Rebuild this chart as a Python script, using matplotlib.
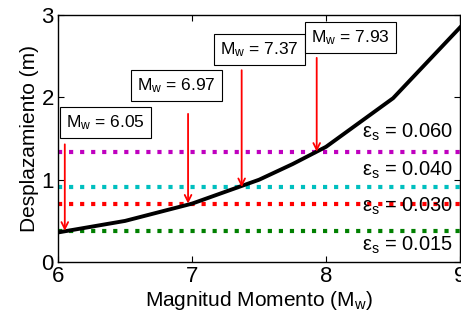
import numpy as np
import matplotlib
matplotlib.use('Agg')
import matplotlib.pyplot as plt

plt.rcParams['font.family'] = ['Liberation Sans', 'DejaVu Sans']
plt.rcParams['mathtext.fontset'] = 'custom'
plt.rcParams['mathtext.rm'] = 'Liberation Sans'
plt.rcParams['mathtext.it'] = 'Liberation Sans'

# curva desplazamiento vs magnitud
magnitud = [6.0, 6.5, 7.0, 7.5, 7.75, 8.0, 8.5, 9.0]
desplazamiento = [0.36, 0.50, 0.71, 1.00, 1.19, 1.40, 1.99, 2.85]

# niveles de deformacion
eps_labels = ['0.060', '0.040', '0.030', '0.015']
eps_desp = [1.34, 0.91, 0.71, 0.38]
eps_colores = ['#BF00BF', '#00BFBF', '#FF0000', '#008000']

# magnitudes de cruce
mw_cruce = [6.05, 6.97, 7.37, 7.93]
mw_desp = [0.38, 0.71, 0.91, 1.34]

# layout (no son datos)
flecha_top = [1.43, 1.80, 2.33, 2.48]
caja_pos = [(6.06, 1.69), (6.59, 2.14), (7.21, 2.58), (7.89, 2.73)]
eps_txt_y = [1.58, 1.11, 0.68, 0.20]

fig = plt.figure(figsize=(4.61, 3.2), dpi=100)
ax = fig.add_axes([0.126, 0.181, 0.872, 0.772])

for y, c in zip(eps_desp, eps_colores):
    ax.axhline(y, color=c, ls=':', lw=3, zorder=2)

ax.plot(magnitud, desplazamiento, color='k', lw=2.8, zorder=3)

for x, y, yt in zip(mw_cruce, mw_desp, flecha_top):
    ax.annotate('', xy=(x, y), xytext=(x, yt),
                arrowprops=dict(arrowstyle='->', color='r', lw=1.3,
                                shrinkA=0, shrinkB=0, mutation_scale=12),
                zorder=4)

for (bx, by), m in zip(caja_pos, mw_cruce):
    ax.text(bx, by, r'M$_{\rm w}$ = %.2f' % m, fontsize=12.5,
            ha='left', va='center', zorder=5,
            bbox=dict(boxstyle='square,pad=0.35', fc='white', ec='k', lw=0.8))

for y, lab in zip(eps_txt_y, eps_labels):
    ax.text(8.95, y, 'ε$_{\\rm s}$ = ' + lab, fontsize=14.5,
            ha='right', va='center', zorder=5)

ax.set_xlim(6, 9)
ax.set_ylim(0, 3)
ax.set_xticks([6, 7, 8, 9])
ax.set_yticks([0, 1, 2, 3])
ax.tick_params(direction='in', top=True, right=True, labelsize=16, length=4, pad=3)
ax.set_xlabel(r'Magnitud Momento (M$_{\rm w}$)', fontsize=15, labelpad=1)
ax.set_ylabel('Desplazamiento (m)', fontsize=15, labelpad=2)
for s in ax.spines.values():
    s.set_linewidth(1.0)

fig.savefig('out.png', dpi=100)
